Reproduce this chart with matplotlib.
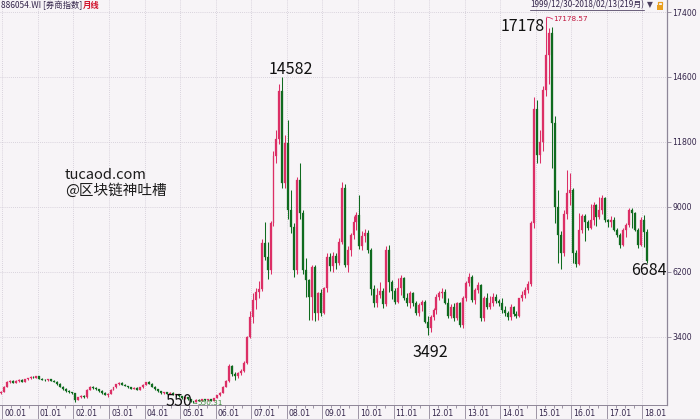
import matplotlib
matplotlib.use('Agg')
import matplotlib.pyplot as plt
from matplotlib.transforms import offset_copy
from matplotlib.patches import Rectangle
from matplotlib.lines import Line2D
import numpy as np
import pandas as pd

# monthly bars, 1999/12 .. 2018/02 (219 months)
months = pd.period_range('1999-12', periods=219, freq='M')

open_ = [990,
    1040, 1250, 1460, 1520, 1430, 1510, 1550, 1480, 1570, 1630, 1680, 1650,
    1700, 1610, 1560, 1530, 1570, 1510, 1470, 1380, 1250, 1150, 1080, 1020,
    975, 700, 820, 860, 800, 1130, 1260, 1210, 1150, 1070, 990, 900,
    960, 1120, 1230, 1360, 1420, 1350, 1290, 1230, 1170, 1220, 1120, 1230,
    1340, 1450, 1380, 1260, 1150, 1060, 990, 1030, 950, 1000, 900, 940,
    840, 760, 820, 720, 640, 600, 700, 660, 720, 670, 720, 660,
    770, 880, 1000, 1250, 1500, 2150, 1800, 1700, 1850, 1950, 2300, 3400,
    4280, 4990, 5350, 5450, 7430, 6860, 6290, 8300, 11200, 11950, 14000, 10020,
    11740, 8870, 8150, 6290, 10160, 8730, 6290, 5850, 5140, 6430, 4420, 5280,
    4450, 5490, 6860, 6450, 6900, 6600, 7510, 9800, 6500, 7150, 7790, 8370,
    8650, 7300, 7750, 7880, 7150, 5450, 4850, 5200, 5400, 4800, 7150, 5750,
    5400, 4920, 5500, 5920, 5070, 4850, 5280, 4850, 4420, 4780, 4920, 4060,
    3800, 4250, 4560, 5140, 5280, 5350, 4850, 4300, 4700, 4210, 4850, 3920,
    5070, 5710, 6000, 5000, 5420, 5640, 4200, 5100, 4700, 4850, 5140, 4950,
    4850, 4560, 4420, 4250, 4700, 4400, 4300, 5060, 5200, 5420, 5700, 8300,
    13200, 11250, 11800, 14040, 15550, 16500, 12600, 9000, 7800, 7000, 8700, 9600,
    9750, 7000, 6550, 8000, 8600, 8370, 8100, 8440, 9100, 8580, 8870, 9400,
    8440, 8370, 8440, 8010, 7790, 7360, 8010, 8220, 8870, 8750, 8010, 7360,
    8440, 7940]

high_ = [1060,
    1280, 1500, 1560, 1560, 1540, 1580, 1570, 1600, 1650, 1700, 1740, 1720,
    1710, 1640, 1600, 1590, 1600, 1560, 1490, 1400, 1280, 1200, 1120, 1050,
    990, 830, 880, 900, 1160, 1300, 1290, 1240, 1180, 1100, 1010, 980,
    1150, 1250, 1380, 1460, 1440, 1370, 1300, 1250, 1240, 1230, 1250, 1360,
    1480, 1490, 1400, 1280, 1170, 1080, 1050, 1040, 1020, 1010, 960, 950,
    860, 840, 830, 740, 660, 720, 720, 740, 730, 740, 730, 780,
    900, 1020, 1280, 1560, 2250, 2200, 1900, 1900, 2000, 2350, 3450, 4500,
    5300, 5500, 5800, 7600, 8370, 7500, 8400, 11400, 12300, 14300, 14582.28, 12100,
    12750, 9730, 8300, 10300, 10880, 8870, 6800, 5900, 6500, 6500, 5350, 5450,
    5550, 7000, 7000, 7050, 7000, 7650, 10070, 10000, 7300, 7900, 8600, 8800,
    9520, 7950, 8050, 8000, 7250, 5650, 5500, 5750, 5500, 7300, 7350, 5850,
    5500, 5950, 6050, 6000, 5300, 5400, 5350, 4950, 4850, 5000, 5000, 4300,
    4350, 4650, 5250, 5400, 5500, 5450, 5100, 4800, 4850, 4900, 4900, 5150,
    5800, 6150, 6050, 5500, 5750, 5700, 5150, 5300, 5150, 5300, 5250, 5050,
    5070, 4720, 4500, 4800, 4750, 4500, 5100, 5400, 5550, 5800, 8400, 13740,
    13600, 12300, 14200, 17178.57, 16700, 16750, 12900, 9730, 7950, 8870, 10600, 10460,
    9800, 7150, 8730, 8700, 8700, 8450, 9150, 9200, 9150, 9440, 9500, 9450,
    8500, 8600, 8550, 8100, 7900, 8100, 8300, 8950, 8950, 8800, 8100, 8580,
    8650, 8050]

low_ = [960,
    1020, 1230, 1400, 1400, 1410, 1470, 1450, 1460, 1540, 1600, 1620, 1630,
    1590, 1540, 1510, 1500, 1490, 1440, 1350, 1230, 1120, 1050, 980, 950,
    620, 680, 790, 780, 790, 1100, 1180, 1130, 1040, 960, 880, 830,
    950, 1100, 1210, 1320, 1330, 1270, 1210, 1140, 1150, 1100, 1100, 1220,
    1320, 1360, 1240, 1130, 1040, 960, 960, 930, 930, 880, 880, 820,
    740, 740, 700, 620, 550.31, 580, 640, 650, 650, 660, 640, 650,
    760, 860, 980, 1230, 1480, 1700, 1550, 1650, 1780, 1900, 2250, 3350,
    4000, 4600, 5100, 5400, 6700, 5900, 6100, 8200, 10900, 11700, 9800, 9800,
    8500, 7900, 6000, 6100, 8500, 6100, 5140, 4130, 4130, 4100, 4130, 4300,
    4400, 5350, 6250, 6200, 6350, 6500, 7400, 6400, 6200, 6900, 7600, 8000,
    7200, 7150, 7500, 7000, 5200, 4700, 4700, 5100, 4650, 4750, 5350, 5050,
    4800, 4850, 5200, 5000, 4750, 4650, 4750, 4350, 4300, 4500, 4000, 3492.07,
    3600, 4150, 4400, 5000, 5100, 4800, 4200, 4200, 4100, 4150, 3850, 3800,
    4950, 5600, 4900, 4800, 5300, 4100, 4100, 4600, 4600, 4750, 4850, 4750,
    4450, 4300, 4150, 4150, 4300, 4200, 4250, 4950, 5100, 5300, 5600, 8100,
    10900, 10900, 11400, 13800, 14300, 10700, 8300, 6570, 6350, 6900, 8500, 9100,
    6600, 6400, 6500, 7900, 7550, 8000, 8050, 8220, 8200, 8500, 8700, 8350,
    8150, 8150, 7950, 7700, 7250, 7300, 7700, 8150, 8100, 7950, 7250, 7300,
    7290, 6600]

close_ = [1040,
    1250, 1460, 1520, 1430, 1510, 1550, 1480, 1570, 1630, 1680, 1650, 1700,
    1610, 1560, 1530, 1570, 1510, 1470, 1380, 1250, 1150, 1080, 1020, 975,
    700, 820, 860, 800, 1130, 1260, 1210, 1150, 1070, 990, 900, 960,
    1120, 1230, 1360, 1420, 1350, 1290, 1230, 1170, 1220, 1120, 1230, 1340,
    1450, 1380, 1260, 1150, 1060, 990, 1030, 950, 1000, 900, 940, 840,
    760, 820, 720, 640, 600, 700, 660, 720, 670, 720, 660, 770,
    880, 1000, 1250, 1500, 2150, 1800, 1700, 1850, 1950, 2300, 3400, 4280,
    4990, 5350, 5450, 7430, 6860, 6290, 8300, 11200, 11950, 14000, 10020, 11740,
    8870, 8150, 6290, 10160, 8730, 6290, 5850, 5140, 6430, 4420, 5280, 4450,
    5490, 6860, 6450, 6900, 6600, 7510, 9800, 6500, 7150, 7790, 8370, 8650,
    7300, 7750, 7880, 7150, 5450, 4850, 5200, 5400, 4800, 7150, 5750, 5400,
    4920, 5500, 5920, 5070, 4850, 5280, 4850, 4420, 4780, 4920, 4060, 3800,
    4250, 4560, 5140, 5280, 5350, 4850, 4300, 4700, 4210, 4850, 3920, 5070,
    5710, 6000, 5000, 5420, 5640, 4200, 5100, 4700, 4850, 5140, 4950, 4850,
    4560, 4420, 4250, 4700, 4400, 4300, 5060, 5200, 5420, 5700, 8300, 13200,
    11250, 11800, 14040, 15550, 16500, 12600, 9000, 7800, 7000, 8700, 9600, 9750,
    7000, 6550, 8000, 8600, 8370, 8100, 8440, 9100, 8580, 8870, 9400, 8440,
    8370, 8440, 8010, 7790, 7360, 8010, 8220, 8870, 8750, 8010, 7360, 8440,
    7940, 6684.2]

year_labels = ['00.01', '01.01', '02.01', '03.01', '04.01', '05.01', '06.01',
               '07.01', '08.01', '09.01', '10.01', '11.01', '12.01', '13.01',
               '14.01', '15.01', '16.01', '17.01', '18.01']
y_ticks = [3400, 6200, 9000, 11800, 14600, 17400]

BG = '#f7f4f7'
RED = '#dc2f66'
GREEN = '#0f6b1f'
AXC = '#8e8698'
TXT = '#33244a'
CJK = ['Noto Sans CJK SC', 'DejaVu Sans']

o = np.array(open_, float)
h = np.array(high_, float)
l = np.array(low_, float)
c = np.array(close_, float)
x = np.arange(len(c))
col = np.where(c >= o, RED, GREEN)

fig = plt.figure(figsize=(7, 4.2), dpi=100, facecolor=BG)
ax = fig.add_axes([0, 15/420, 667/700, 405/420], facecolor=BG)

ax.vlines(x, l, h, colors=col, lw=0.75)
body = np.maximum(np.abs(c - o), 25)
ax.bar(x, body, bottom=np.minimum(o, c), width=0.66, color=col,
       edgecolor=col, linewidth=0.2)

ax.set_xlim(-0.3, 224.8)
ax.set_ylim(470, 17917)

# grid
jan = [i for i, m in enumerate(months) if m.month == 1]
qtr = [i for i, m in enumerate(months) if m.month in (4, 7, 10)]
for yv in y_ticks:
    ax.axhline(yv, color='#cfc8d4', lw=0.6, ls=(0, (1, 1.5)), zorder=0)
for xv in jan:
    ax.axvline(xv - 0.5, color='#cfc8d4', lw=0.6, ls=(0, (1, 1.5)), zorder=0)

# axes cosmetics
for s in ['top', 'left']:
    ax.spines[s].set_visible(False)
ax.spines['right'].set_color(AXC)
ax.spines['bottom'].set_color(AXC)
ax.spines['right'].set_linewidth(0.9)
ax.spines['bottom'].set_linewidth(0.7)

ax.yaxis.tick_right()
ax.set_yticks(y_ticks)
ax.set_yticklabels([str(v) for v in y_ticks])
ax.tick_params(axis='y', direction='out', length=3, width=0.6, color=AXC,
               labelcolor=TXT, labelsize=5.6, pad=1)

ax.set_xticks([i - 0.5 for i in jan])
ax.set_xticklabels([])
ax.set_xticks([i - 0.5 for i in qtr], minor=True)
ax.tick_params(axis='x', which='major', direction='out', length=10, width=0.6, color=AXC)
ax.tick_params(axis='x', which='minor', direction='out', length=2.5, width=0.6, color=AXC)
lab_tr = offset_copy(ax.get_xaxis_transform(), fig=fig, x=2, y=-8, units='dots')
for xv, lab in zip(jan, year_labels):
    ax.text(xv - 0.5, 0, lab, transform=lab_tr, ha='left', va='center',
            fontsize=5.6, color=TXT)
fig.add_artist(Line2D([0, 1], [1/420, 1/420], transform=fig.transFigure,
                      color='#d6d0da', lw=0.8))

# price annotations
i_hi = int(np.argmax(h))
i_hi07 = int(np.argmax(h[:150]))
i_lo = int(np.argmin(l))
i_lo11 = 100 + int(np.argmin(l[100:]))
i_last = len(c) - 1
big = dict(family=CJK, fontsize=11.5, color='#111111')

ax.text(i_hi - 0.4, h[i_hi] - 420, f'{int(h[i_hi])}', ha='right', va='center', **big)
ax.plot([i_hi + 0.3, i_hi + 1.2, i_hi + 2.2], [h[i_hi], h[i_hi] - 20, h[i_hi] - 80],
        color=RED, lw=0.6)
ax.text(i_hi + 2.4, h[i_hi] - 80, f'{h[i_hi]:.2f}', ha='left', va='center',
        fontsize=5.2, color='#c0143c')

ax.text(i_hi07 + 2.9, h[i_hi07] + 360, f'{int(h[i_hi07])}', ha='center', va='center', **big)

ax.text(i_lo - 0.3, l[i_lo] + 60, f'{int(l[i_lo])}', ha='right', va='center', **big)
ax.plot([i_lo + 0.3, i_lo + 1.1], [l[i_lo], l[i_lo] - 10], color='#3a8a3a', lw=0.6)
ax.text(i_lo + 1.2, l[i_lo] - 10, f'{l[i_lo]:.2f}', ha='left', va='center',
        fontsize=5.2, color='#3a8a3a')

ax.text(i_lo11 + 0.8, l[i_lo11] - 740, f'{int(l[i_lo11])}', ha='center', va='center', **big)
ax.text(i_last + 0.6, c[i_last] - 400, f'{int(c[i_last])}', ha='center', va='center', **big)

# header texts
fig.text(1/700, 1 - 5/420, '886054.WI [券商指数]', family=CJK, fontsize=6,
         color=TXT, va='center', ha='left')
fig.text(83/700, 1 - 5/420, '月线', family=CJK, fontsize=6, color='#d0102a',
         va='center', ha='left', fontweight='bold')
rng = fig.text(644/700, 1 - 5/420, '1999/12/30-2018/02/13(219月)', family=CJK,
               fontsize=5.8, color=TXT, va='center', ha='right')
fig.canvas.draw()
bb = rng.get_window_extent()
fig.add_artist(Line2D([bb.x0/700, bb.x1/700], [(bb.y0 - 0.5)/420, (bb.y0 - 0.5)/420],
                      transform=fig.transFigure, color=TXT, lw=0.5))
fig.text(647/700, 1 - 5/420, '▼', fontsize=5.5, color='#4a3e5e', va='center', ha='left')
fig.add_artist(Rectangle((657/700, 1 - 10/420), 6/700, 5/420, transform=fig.transFigure,
                         facecolor='#e9a020', edgecolor='none'))
fig.add_artist(Line2D([658/700, 658/700, 662/700, 662/700],
                      [1 - 5/420, 1 - 2/420, 1 - 2/420, 1 - 4/420],
                      transform=fig.transFigure, color='#e9a020', lw=0.9))

# watermark
fig.text(65/700, 1 - 175/420, 'tucaod.com', family=CJK, fontsize=10.5,
         color='#1c1c1c', va='center', ha='left')
fig.text(65/700, 1 - 191/420, '@区块链神吐槽', family=CJK, fontsize=10.5,
         color='#1c1c1c', va='center', ha='left')

fig.savefig('out.png', dpi=100, facecolor=BG)
